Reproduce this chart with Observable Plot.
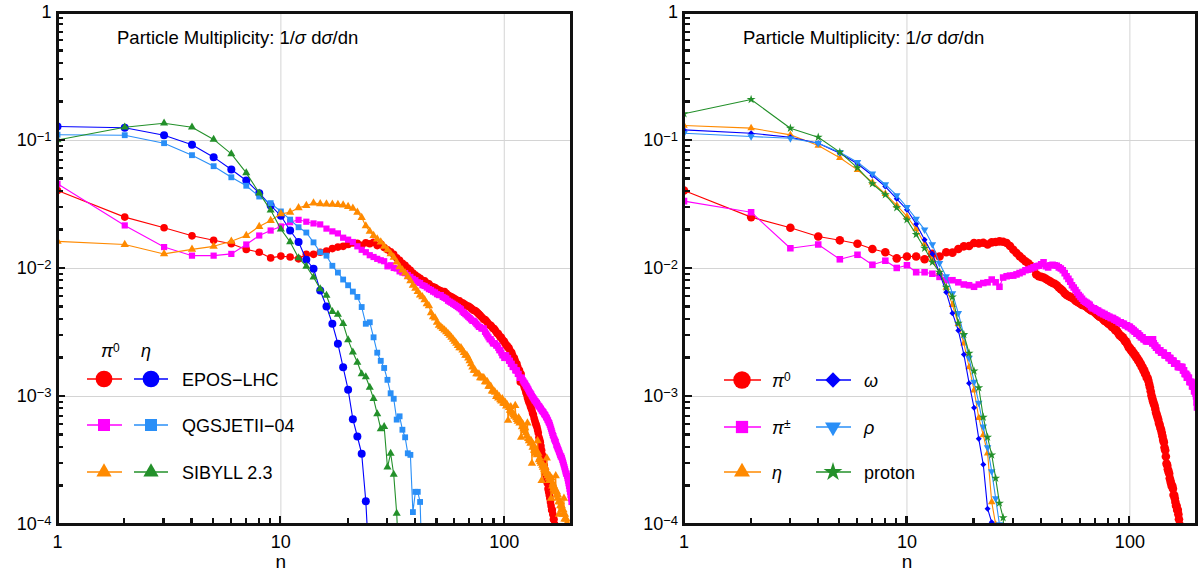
<!DOCTYPE html>
<html><head><meta charset="utf-8">
<script src="https://cdn.jsdelivr.net/npm/d3@7"></script>
<script src="https://cdn.jsdelivr.net/npm/@observablehq/plot@0.6"></script>
<style>
html,body{margin:0;padding:0;background:#fff;}
#wrap{position:relative;width:1198px;height:577px;overflow:hidden;font-family:"Liberation Sans",Arial,sans-serif;}
#left,#right{position:absolute;top:0;}
#left{left:0;width:600px;} #right{left:600px;width:598px;}
#frames{position:absolute;left:0;top:0;width:1198px;height:577px;pointer-events:none;z-index:5;}
#frames div{position:absolute;box-sizing:border-box;}
</style></head><body>
<div id="wrap"><div id="left"></div><div id="right"></div><div id="frames"></div></div>
<script>
// ---------- axes ----------
const xDomain = [1, 200];
const yDomain = [1e-4, 1];
const xMajorTicks = [1, 10, 100];
const xMinorTicks = [2,3,4,5,6,7,8,9,20,30,40,50,60,70,80,90,200];
const yMajorTicks = [1, 0.1, 0.01, 0.001, 0.0001];
const yMinorTicks = [0.9,0.8,0.7,0.6,0.5,0.4,0.3,0.2,0.09,0.08,0.07,0.06,0.05,0.04,0.03,0.02,0.009,0.008,0.007,0.006,0.005,0.004,0.003,0.002,0.0009,0.0008,0.0007,0.0006,0.0005,0.0004,0.0003,0.0002];
const xGrid = [10, 100];
const yGrid = [0.1, 0.01, 0.001];

// ---------- left panel data (value at n = 1, 2, 3, ...) ----------
const leftEposPi0 = [0.0407,0.0252,0.0208,0.0180,0.0166,0.0156,0.0141,0.0134,0.0121,0.0125,
0.0123,0.0119,0.0129,0.0129,0.0134,0.0137,0.0143,0.0147,0.0149,0.0154,
0.0158,0.0157,0.0152,0.0159,0.0156,0.0160,0.0151,0.0155,0.0146,0.0140,
0.0135,0.0129,0.0121,0.0116,0.0110,0.0106,0.0101,0.0097,0.0092,0.0089,
0.0086,0.0084,0.0081,0.0080,0.0077,0.0076,0.0073,0.0072,0.0071,0.0069,
0.0068,0.0067,0.0065,0.0066,0.0064,0.0062,0.0061,0.0060,0.0059,0.0058,
0.0057,0.0056,0.0056,0.0054,0.0054,0.0053,0.0052,0.0051,0.0051,0.0050,
0.0049,0.0048,0.0047,0.0047,0.0046,0.0045,0.0044,0.0043,0.0042,0.0041,
0.0040,0.0040,0.0039,0.0038,0.0037,0.0036,0.0036,0.0035,0.0034,0.0034,
0.0033,0.0032,0.0031,0.0031,0.0030,0.0029,0.0029,0.0028,0.0027,0.0027,
0.0026,0.0025,0.0025,0.0024,0.0024,0.0023,0.0022,0.0022,0.0021,0.0020,
0.0020,0.0019,0.0018,0.0018,0.0017,0.0016,0.0016,0.0013,0.0015,0.0013,
0.00128,0.00124,0.00118,0.00114,0.00108,0.00104,0.00098,0.00094,0.00090,0.00088,
0.00084,0.00081,0.00078,0.00074,0.00072,0.00068,0.00065,0.00062,0.00060,0.00058,
0.00055,0.00052,0.00048,0.00046,0.00044,0.00041,0.00038,0.00035,0.00033,0.00031,
0.00029,0.00027,0.00025,0.00024,0.00022,0.00021,0.00019,0.00018,0.00017,0.00016,
0.00015,0.00014,0.00013,0.00013,0.00012,0.00011,0.00011,0.00010,0.000098,0.000095,
0.00009,0.000085,0.00008,0.000075,0.00007,0.000065,0.00006,0.000055,0.00005,0.000045];

const leftEposEta = [0.1286,0.1257,0.110,0.0925,0.0741,0.0593,0.0487,0.0388,0.0311,0.0258,
0.0198,0.0161,0.0117,0.00995,0.00673,0.00505,0.0037,0.00258,0.00169,0.00113,
0.000665,0.000487,0.000357,0.000152,0.00004];

const leftQgsPi0 = [0.0459,0.0217,0.0147,0.0126,0.0126,0.0130,0.0154,0.0181,0.0198,0.0213,
0.0230,0.0240,0.0232,0.0225,0.0221,0.0205,0.0195,0.0188,0.0174,0.0168,
0.0161,0.0149,0.0140,0.0134,0.0127,0.0123,0.0119,0.0116,0.0114,0.0104,
0.0106,0.0101,0.0100,0.0095,0.0093,0.0092,0.0089,0.0086,0.0083,0.0081,
0.0078,0.0077,0.0074,0.0073,0.0071,0.0069,0.0068,0.0066,0.0065,0.0063,
0.0062,0.0062,0.0060,0.0059,0.0058,0.0056,0.0055,0.0054,0.0053,0.0052,
0.0051,0.0050,0.0049,0.0048,0.0046,0.0045,0.0044,0.0043,0.0042,0.0041,
0.0040,0.0039,0.0039,0.0038,0.0037,0.0036,0.0035,0.0035,0.0034,0.0034,
0.0034,0.0032,0.0031,0.0030,0.0029,0.0028,0.0028,0.0027,0.0026,0.0026,
0.0026,0.0025,0.0025,0.0024,0.0023,0.0023,0.0022,0.0021,0.0021,0.0020,
0.0021,0.0021,0.0020,0.0020,0.0019,0.0019,0.0018,0.0018,0.0017,0.0017,
0.0017,0.0016,0.0016,0.0016,0.0015,0.0015,0.0014,0.0014,0.0014,0.0014,
0.00134,0.00131,0.00128,0.00126,0.00122,0.00120,0.00117,0.00114,0.00111,0.00108,
0.00106,0.00104,0.00101,0.00099,0.00097,0.00095,0.00093,0.00092,0.00090,0.00089,
0.00087,0.00085,0.00084,0.00083,0.00081,0.00080,0.00078,0.00077,0.00076,0.00075,
0.00073,0.00072,0.00071,0.00069,0.00068,0.00066,0.00065,0.00063,0.00062,0.00060,
0.00058,0.00056,0.00054,0.00052,0.00050,0.00049,0.00047,0.00046,0.00045,0.00044,
0.00042,0.00041,0.00040,0.00039,0.00038,0.00037,0.00036,0.00035,0.00034,0.00034,
0.00033,0.00032,0.00031,0.00030,0.00029,0.00028,0.00027,0.00026,0.00025,0.00025,
0.00024,0.00023,0.00022,0.00021,0.00020,0.00019,0.00018,0.00017,0.00016,0.00015];

const leftQgsEta = [0.111,0.110,0.0953,0.0768,0.063,0.0516,0.0443,0.0365,0.0324,0.0279,
0.0241,0.0210,0.0191,0.0160,0.0134,0.0126,0.0105,0.0093,0.0082,0.0074,
0.0066,0.0060,0.0050,0.0037,0.0038,0.0029,0.0022,0.0019,0.00167,0.00135,
0.00106,0.00096,0.00066,0.00070,0.00055,0.00048,0.00036,0.00035,0.000125,0.00018,
0.00018,0.00015,0.00004];

const leftSibPi0 = [0.0163,0.0154,0.0130,0.0141,0.0149,0.0163,0.0181,0.0213,0.0237,0.0267,
0.0275,0.0298,0.0310,0.0324,0.0320,0.0318,0.0317,0.0316,0.0313,0.0305,
0.0295,0.0275,0.0250,0.0215,0.0195,0.0181,0.0170,0.0161,0.0149,0.0140,
0.0130,0.0122,0.0112,0.0103,0.0097,0.0092,0.0086,0.0080,0.0074,0.0070,
0.0066,0.0062,0.0060,0.0057,0.0053,0.0051,0.0045,0.0042,0.0041,0.0038,
0.0036,0.0035,0.0034,0.0033,0.0032,0.0031,0.0030,0.0029,0.0028,0.0027,
0.0026,0.0025,0.0024,0.0024,0.0023,0.0022,0.0021,0.0021,0.0020,0.0019,
0.0018,0.0017,0.0016,0.0016,0.0015,0.0015,0.0015,0.0014,0.0014,0.0014,
0.0014,0.0013,0.0013,0.0013,0.0012,0.0012,0.0012,0.0011,0.0011,0.0011,
0.00108,0.00100,0.00104,0.00097,0.00100,0.00094,0.00092,0.00096,0.00089,0.00088,
0.00090,0.00084,0.00086,0.00065,0.00082,0.00078,0.00083,0.00076,0.00074,0.00072,
0.00070,0.00085,0.00068,0.00066,0.00064,0.00068,0.00062,0.00065,0.00048,0.00058,
0.00061,0.00056,0.00054,0.00057,0.00052,0.00049,0.00062,0.00047,0.00045,0.00046,
0.00043,0.00045,0.00030,0.00040,0.00042,0.00038,0.00039,0.00036,0.00038,0.00035,
0.00045,0.00036,0.00032,0.00033,0.00031,0.00030,0.00022,0.00029,0.00028,0.00029,
0.00027,0.00026,0.00028,0.00025,0.00033,0.00024,0.00025,0.00023,0.00022,0.00024,
0.00022,0.00016,0.00023,0.00020,0.00021,0.00019,0.00020,0.00018,0.00019,0.00024,
0.00017,0.00018,0.00016,0.00017,0.00015,0.00012,0.00015,0.00014,0.00015,0.00013,
0.00014,0.00013,0.00012,0.00013,0.00016,0.00011,0.00012,0.00011,0.00010,0.00011,
0.00010,0.000095,0.0001,0.00009,0.000085,0.00009,0.00008,0.000085,0.00008,0.000075];

const leftSibEta = [0.101,0.127,0.1365,0.127,0.102,0.0787,0.0559,0.0388,0.0286,0.0203,
0.0161,0.0121,0.0104,0.00855,0.00693,0.00615,0.00461,0.00437,0.0037,0.00277,
0.00222,0.00185,0.00150,0.00142,0.00118,0.00096,0.00073,0.000559,0.00058,0.00028,
0.00036,0.000246,0.000122,0.00004];

// ---------- right panel data (value at n = 1, 2, 3, ...) ----------
const rightPi0 = [0.0407,0.0252,0.0208,0.0178,0.0166,0.0156,0.0142,0.0134,0.0120,0.0124,
0.0124,0.0118,0.0130,0.0124,0.0134,0.0133,0.0142,0.0149,0.0150,0.0158,
0.0157,0.0159,0.0154,0.0160,0.0161,0.0163,0.0162,0.0158,0.0150,0.0140,
0.0132,0.0125,0.0119,0.0114,0.0110,0.0105,0.0100,0.0090,0.0087,0.0086,
0.0085,0.0083,0.0081,0.0079,0.0077,0.0076,0.0074,0.0071,0.0069,0.0067,
0.0064,0.0062,0.0061,0.0060,0.0059,0.0058,0.0056,0.0055,0.0054,0.0053,
0.0052,0.0052,0.0051,0.0050,0.0049,0.0048,0.0047,0.0047,0.0046,0.0045,
0.0044,0.0043,0.0042,0.0042,0.0041,0.0040,0.0039,0.0039,0.0038,0.0037,
0.0037,0.0036,0.0035,0.0035,0.0034,0.0033,0.0033,0.0032,0.0031,0.0030,
0.0030,0.0029,0.0029,0.0028,0.0027,0.0027,0.0026,0.0025,0.0024,0.0024,
0.0023,0.0023,0.0022,0.0022,0.0021,0.0021,0.0020,0.0020,0.0019,0.0019,
0.0018,0.0018,0.0017,0.0017,0.0016,0.0016,0.0015,0.0015,0.0014,0.0014,
0.00133,0.00125,0.00118,0.00110,0.00102,0.00097,0.00092,0.00088,0.00085,0.00080,
0.00075,0.00072,0.00069,0.00066,0.00062,0.00060,0.00057,0.00055,0.00052,0.00049,
0.00046,0.00044,0.00040,0.00038,0.00034,0.00030,0.00029,0.00027,0.00026,0.00025,
0.00023,0.00022,0.00021,0.00020,0.00020,0.00019,0.00017,0.00017,0.00016,0.00015,
0.00014,0.00014,0.00013,0.00013,0.00012,0.00011,0.00010,0.000095,0.00009,0.000085];

const rightPipm = [0.0336,0.0275,0.0144,0.0154,0.0118,0.0128,0.0107,0.0115,0.0101,0.0106,
0.00935,0.00935,0.0091,0.0086,0.0081,0.0081,0.0078,0.0075,0.0074,0.0072,
0.0075,0.0077,0.0078,0.0082,0.0078,0.0072,0.0085,0.0087,0.0088,0.0088,
0.0090,0.0092,0.0094,0.0097,0.0098,0.0100,0.0102,0.0104,0.0105,0.0108,
0.0112,0.0104,0.0102,0.0106,0.0107,0.0106,0.0105,0.0102,0.0100,0.0097,
0.0092,0.0087,0.0083,0.0079,0.0074,0.0071,0.0068,0.0065,0.0062,0.0060,
0.0058,0.0056,0.0055,0.0054,0.0053,0.0052,0.0050,0.0049,0.0049,0.0048,
0.0047,0.0047,0.0046,0.0045,0.0045,0.0044,0.0044,0.0043,0.0043,0.0042,
0.0042,0.0041,0.0041,0.0041,0.0040,0.0040,0.0039,0.0039,0.0038,0.0038,
0.0038,0.0037,0.0037,0.0037,0.0036,0.0036,0.0036,0.0035,0.0035,0.0035,
0.0034,0.0034,0.0033,0.0033,0.0032,0.0032,0.0031,0.0031,0.0031,0.0030,
0.0030,0.0029,0.0029,0.0029,0.0028,0.0028,0.0028,0.0027,0.0027,0.0027,
0.0027,0.0028,0.0028,0.0027,0.0027,0.0026,0.0028,0.0026,0.0025,0.0025,
0.0024,0.0024,0.0024,0.0023,0.0023,0.0023,0.0023,0.0022,0.0022,0.0022,
0.0022,0.0022,0.0021,0.0021,0.0021,0.0021,0.0021,0.0021,0.0020,0.0020,
0.0020,0.0020,0.0019,0.0019,0.0019,0.0019,0.0019,0.0018,0.0018,0.0018,
0.0018,0.0018,0.0018,0.0017,0.0017,0.0017,0.0017,0.0017,0.0017,0.0017,
0.0017,0.0017,0.0016,0.0016,0.0016,0.0015,0.0015,0.0015,0.0015,0.0014,
0.00146,0.0014,0.0014,0.0014,0.0013,0.0013,0.0013,0.0013,0.0013,0.0012,
0.00126,0.0012,0.0012,0.0011,0.0011,0.0011,0.00105,0.0010,0.0009,0.00082];

const rightEta = [0.131,0.125,0.1107,0.0914,0.0733,0.059,0.0472,0.0383,0.0311,0.0255,
0.0204,0.0156,0.0119,0.00935,0.0071,0.0052,0.0037,0.0026,0.0017,0.00112,
0.00068,0.0005,0.00036,0.00015,0.0001,0.00004];

const rightOmega = [0.121,0.114,0.106,0.0953,0.0796,0.0658,0.0533,0.0437,0.035,0.0288,
0.0223,0.0168,0.013,0.0092,0.00653,0.00448,0.00328,0.00213,0.00127,0.000816,
0.000467,0.000294,0.000133,0.000104,0.00004];

const rightRho = [0.114,0.1075,0.104,0.0953,0.0811,0.0677,0.055,0.0453,0.0372,0.0301,
0.0244,0.0201,0.0154,0.011,0.00866,0.0064,0.00448,0.0030,0.0020,0.0013,
0.00089,0.00058,0.0004,0.00026,0.00016,0.0001,0.00004];

const rightProton = [0.1617,0.209,0.1248,0.106,0.0811,0.0612,0.0459,0.0377,0.0298,0.024,
0.01844,0.0144,0.0112,0.00935,0.00714,0.0060,0.00374,0.00305,0.00218,0.00158,
0.00117,0.00069,0.00048,0.00035,0.00023,0.000147,0.000113,0.00004];

// ---------- styling ----------
const C = {red:"#ff0000", blue:"#0000ff", magenta:"#ff00ff", lblue:"#2a8ff7", orange:"#ff8a00", green:"#23902a"};
const INK = "#111111";
const SQ3 = Math.sqrt(3);
const triangleDown = {draw(ctx, size){ const y = -Math.sqrt(size/(SQ3*3)); ctx.moveTo(0,-2*y); ctx.lineTo(SQ3*y, y); ctx.lineTo(-SQ3*y, y); ctx.closePath(); }};

const leftSeries = [
  {values:leftEposPi0, color:C.red, symbol:"circle", r:3.8},
  {values:leftEposEta, color:C.blue, symbol:"circle", r:4},
  {values:leftQgsPi0, color:C.magenta, symbol:"square", r:3.5},
  {values:leftQgsEta, color:C.lblue, symbol:"square", r:3.3},
  {values:leftSibPi0, color:C.orange, symbol:"triangle", r:3.1},
  {values:leftSibEta, color:C.green, symbol:"triangle", r:3.0}
];
const rightSeries = [
  {values:rightPi0, color:C.red, symbol:"circle", r:4.3},
  {values:rightPipm, color:C.magenta, symbol:"square", r:3.7},
  {values:rightEta, color:C.orange, symbol:"triangle", r:2.8},
  {values:rightOmega, color:C.blue, symbol:"diamond2", r:2.7},
  {values:rightRho, color:C.lblue, symbol:triangleDown, r:2.8},
  {values:rightProton, color:C.green, symbol:"star", r:2.8}
];

function rows(values){ return values.map((v,i)=>({n:i+1, v})); }

const HEIGHT = 577, MT = 12, MB = 53;
function panel(series, width, marginLeft, marginRight){
  const marks = [
    Plot.ruleX(xGrid, {stroke:"#d4d4d4", strokeWidth:1}),
    Plot.ruleY(yGrid, {stroke:"#d4d4d4", strokeWidth:1})
  ];
  for (const s of series){
    const d = rows(s.values);
    marks.push(Plot.line(d, {x:"n", y:"v", stroke:s.color, strokeWidth:1.1, clip:true}));
    marks.push(Plot.dot(d, {x:"n", y:"v", fill:s.color, stroke:"none", symbol:s.symbol, r:s.r, clip:true}));
  }
  marks.push(
    Plot.axisX(xMajorTicks, {anchor:"bottom", tickSize:0, tickPadding:11, fontSize:18, label:null, tickFormat:d=>String(d)}),
    Plot.axisY(yMajorTicks, {anchor:"left", tickSize:0, tickPadding:6, fontSize:18, label:null,
      tickFormat:d=> d===1 ? "1" : "10|" + Math.round(Math.log10(d))}),
    Plot.text(["n"], {x:()=>10, text:d=>d, frameAnchor:"bottom", dy:43, fontSize:19})
  );
  return Plot.plot({
    width, height:HEIGHT, marginLeft, marginRight, marginTop:MT, marginBottom:MB,
    x:{type:"log", domain:xDomain, axis:null},
    y:{type:"log", domain:yDomain, axis:null},
    style:{fontFamily:"'Liberation Sans', Arial, sans-serif", fontSize:"18px", background:"white", color:"black"},
    marks
  });
}

// frame and inward ticks drawn as positioned HTML boxes, using log scales with the panel geometry
function drawFrameHTML(offsetX, width, marginLeft, marginRight){
  const X = d3.scaleLog().domain(xDomain).range([offsetX + marginLeft, offsetX + width - marginRight]);
  const Y = d3.scaleLog().domain(yDomain).range([HEIGHT - MB, MT]);
  const host = d3.select("#frames");
  const x0 = X(xDomain[0]), x1 = X(xDomain[1]), y0 = Y(yDomain[0]), y1 = Y(yDomain[1]);
  const box = (x, y, w, h) => host.append("div")
    .style("left", x + "px").style("top", y + "px").style("width", w + "px").style("height", h + "px")
    .style("background", INK);
  xMinorTicks.forEach(v => box(X(v)-1.1, y0-6, 2.2, 6));
  xMajorTicks.forEach(v => box(X(v)-1.1, y0-8, 2.2, 8));
  yMinorTicks.forEach(v => box(x0, Y(v)-1.1, 6, 2.2));
  yMajorTicks.forEach(v => box(x0, Y(v)-1.1, 8, 2.2));
  box(x0-1.5, y1-1.5, x1-x0+3, 3);
  box(x0-1.5, y0-1.5, x1-x0+3, 3);
  box(x0-1.5, y1-1.5, 3, y0-y1+3);
  box(x1-1.5, y1-1.5, 3, y0-y1+3);
}

function fixYLabels(svg){
  d3.select(svg).selectAll('g[aria-label="y-axis tick label"] text').each(function(){
    const t = d3.select(this); const s = t.text();
    if (s.includes("|")){
      const e = s.split("|")[1].replace("-", "\u2212");
      t.text("");
      t.append("tspan").text("10");
      t.append("tspan").attr("dy","-0.42em").attr("font-size","13px").text(e);
    }
  });
}

function addTitle(svg, x){
  const t = d3.select(svg).append("text").attr("x", x).attr("y", 44).attr("font-size", 18.5)
    .attr("fill","black").attr("text-anchor","start");
  t.append("tspan").text("Particle Multiplicity: 1/");
  t.append("tspan").attr("font-style","italic").text("\u03c3");
  t.append("tspan").text(" d");
  t.append("tspan").attr("font-style","italic").text("\u03c3");
  t.append("tspan").text("/dn");
}

function symbolPath(type, size){ return d3.symbol().type(type).size(size)(); }

function legendEntry(g, cx, cy, x1, x2, color, type, size){
  g.append("line").attr("x1",x1).attr("x2",x2).attr("y1",cy).attr("y2",cy).attr("stroke",color).attr("stroke-width",1.3);
  g.append("path").attr("d", symbolPath(type,size)).attr("transform",`translate(${cx},${cy})`).attr("fill",color);
}

function richLabel(g, x, y, parts){
  const t = g.append("text").attr("x",x).attr("y",y).attr("font-size",18).attr("fill","black").attr("text-anchor","start");
  for (const p of parts){
    const s = t.append("tspan").text(p.t);
    if (p.i) s.attr("font-style","italic");
    if (p.sup) s.attr("dy","-0.45em").attr("font-size","12px");
  }
}

// legends
const leftLegend = [
  {label:"EPOS\u2212LHC", c1:C.red, c2:C.blue, s1:d3.symbolCircle, s2:d3.symbolCircle, z1:220, z2:220},
  {label:"QGSJETII\u221204", c1:C.magenta, c2:C.lblue, s1:d3.symbolSquare, s2:d3.symbolSquare, z1:144, z2:144},
  {label:"SIBYLL 2.3", c1:C.orange, c2:C.green, s1:d3.symbolTriangle, s2:d3.symbolTriangle, z1:100, z2:100}
];
const rightLegend = [
  {c1:C.red, s1:d3.symbolCircle, z1:240, l1:[{t:"\u03c0",i:true},{t:"0",sup:true}],
   c2:C.blue, s2:d3.symbolDiamond2 || d3.symbolDiamond, z2:150, l2:[{t:"\u03c9",i:true}]},
  {c1:C.magenta, s1:d3.symbolSquare, z1:150, l1:[{t:"\u03c0",i:true},{t:"\u00b1",sup:true}],
   c2:C.lblue, s2:triangleDown, z2:110, l2:[{t:"\u03c1",i:true}]},
  {c1:C.orange, s1:d3.symbolTriangle, z1:110, l1:[{t:"\u03b7",i:true}],
   c2:C.green, s2:d3.symbolStar, z2:110, l2:[{t:"proton"}]}
];

// frames first (HTML layer above the charts)
drawFrameHTML(0, 600, 57, 29);
drawFrameHTML(600, 598, 83.5, 1.5);

const leftSvg = panel(leftSeries, 600, 57, 29);
document.getElementById("left").appendChild(leftSvg);
fixYLabels(leftSvg);
addTitle(leftSvg, 117);
{
  const g = d3.select(leftSvg).append("g");
  const rowsY = [379, 425, 472];
  richLabel(g, 101, 357, [{t:"\u03c0",i:true},{t:"0",sup:true}]);
  richLabel(g, 141, 357, [{t:"\u03b7",i:true}]);
  leftLegend.forEach((L,k)=>{
    const y = rowsY[k];
    legendEntry(g, 104, y, 87, 122, L.c1, L.s1, L.z1);
    legendEntry(g, 151, y, 134, 168, L.c2, L.s2, L.z2);
    g.append("text").attr("x",182).attr("y",y+6.5).attr("font-size",18).attr("fill","black").attr("text-anchor","start").text(L.label);
  });
}

const rightSvg = panel(rightSeries, 598, 83.5, 1.5);
document.getElementById("right").appendChild(rightSvg);
fixYLabels(rightSvg);
addTitle(rightSvg, 143);
{
  const g = d3.select(rightSvg).append("g");
  const rowsY = [380, 427, 472];
  rightLegend.forEach((L,k)=>{
    const y = rowsY[k];
    legendEntry(g, 142, y, 124, 161, L.c1, L.s1, L.z1);
    richLabel(g, 172, y+6.5, L.l1);
    legendEntry(g, 233, y, 216, 251, L.c2, L.s2, L.z2);
    richLabel(g, 264, y+6.5, L.l2);
  });
}
</script>
</body></html>
